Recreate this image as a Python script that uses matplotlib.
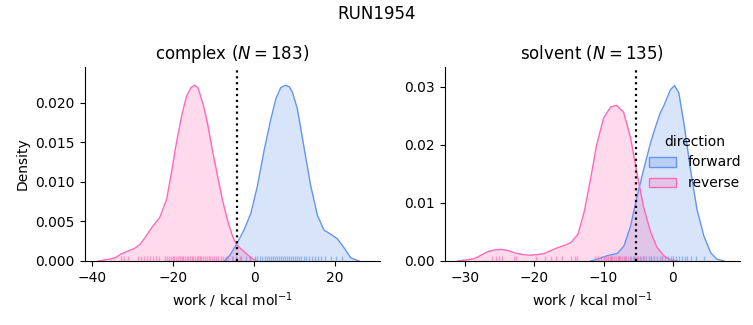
import numpy as np
import matplotlib
matplotlib.use('Agg')
import matplotlib.pyplot as plt
import matplotlib.patches as mpatches
from matplotlib.colors import to_rgb

# ── Data (KDE curves + rug samples) ──────────────────────────────────────────
FWD = '#6495ED'   # cornflowerblue
REV = '#FF69B4'   # hotpink

# complex leg
cpx_rev_x = [-38.5, -36.0, -34.4, -32.8, -31.9, -30.5, -29.5, -28.2, -27.0, -25.3,
             -23.3, -21.6, -20.4, -19.2, -17.9, -16.7, -15.6, -14.7, -13.9, -13.2,
             -12.3, -11.5, -10.3, -9.0, -7.8, -6.6, -5.3, -4.35, -3.4, -2.5,
             -1.4, -0.4, 0.6]
cpx_rev_y = [0.0000, 0.0002, 0.0004, 0.0009, 0.0011, 0.0014, 0.0016, 0.0021, 0.0029, 0.0042,
             0.0055, 0.0078, 0.0112, 0.0149, 0.0183, 0.0208, 0.0219, 0.0222, 0.0219, 0.0208,
             0.0192, 0.0174, 0.0140, 0.0107, 0.0077, 0.0052, 0.0031, 0.0021, 0.0016, 0.0012,
             0.0007, 0.0003, 0.0000]
cpx_fwd_x = [-7.4, -6.0, -4.35, -2.5, -0.8, 0.8, 2.5, 4.1, 5.4, 6.6,
             7.8, 8.7, 9.5, 10.7, 12.3, 14.0, 15.7, 17.3, 18.9, 20.6,
             22.2, 23.9, 25.9]
cpx_fwd_y = [0.0000, 0.0007, 0.0021, 0.0039, 0.0060, 0.0094, 0.0140, 0.0178, 0.0205, 0.0219,
             0.0222, 0.0220, 0.0213, 0.0192, 0.0145, 0.0095, 0.0057, 0.0039, 0.0034, 0.0028,
             0.0017, 0.0004, 0.0000]
cpx_rev_rug = [-33.0, -32.2, -31.2, -28.6, -27.9, -27.1, -26.4, -25.8, -25.0, -24.3,
               -23.6, -22.1, -21.5, -21.0, -20.6, -20.1, -19.7, -19.2, -18.8, -18.3,
               -17.9, -17.5, -17.0, -16.6, -16.2, -15.8, -15.4, -15.0, -14.6, -14.2,
               -13.8, -13.4, -13.0, -12.6, -12.1, -11.7, -11.2, -10.8, -10.3, -9.8,
               -9.3, -8.8, -8.2, -7.7, -6.5, -5.3, -3.4, -1.0]
cpx_fwd_rug = [-6.9, -5.5, -4.4, -3.2, -2.0, -0.9, 0.2, 0.8, 1.4, 2.0,
               2.6, 3.1, 3.6, 4.1, 4.6, 5.1, 5.6, 6.1, 6.6, 7.1,
               7.6, 8.1, 8.6, 9.1, 9.6, 10.1, 10.6, 11.1, 11.7, 12.3,
               12.9, 13.5, 14.2, 15.0, 15.8, 16.5, 17.6, 19.0, 20.3, 21.8]

# solvent leg
slv_rev_x = [-31.1, -29.8, -28.7, -27.7, -26.8, -25.8, -24.8, -23.8, -22.9, -21.7,
             -20.5, -19.5, -18.6, -17.6, -16.6, -15.6, -14.7, -13.7, -12.8, -11.9,
             -11.0, -10.0, -9.0, -8.15, -7.1, -6.1, -5.15, -4.2, -3.2, -2.3,
             -1.3, -0.33, 0.6]
slv_rev_y = [0.0000, 0.0002, 0.0004, 0.0010, 0.0016, 0.0019, 0.0020, 0.0018, 0.0014, 0.0011,
             0.0010, 0.0011, 0.0013, 0.0018, 0.0023, 0.0027, 0.0032, 0.0046, 0.0085, 0.0140,
             0.0200, 0.0246, 0.0265, 0.0268, 0.0256, 0.0212, 0.0150, 0.0092, 0.0050, 0.0024,
             0.0009, 0.0002, 0.0000]
slv_fwd_x = [-11.9, -10.9, -9.5, -8.0, -7.05, -6.1, -5.15, -4.2, -3.2, -2.3,
             -1.8, -1.3, -0.33, 0.25, 0.87, 1.6, 2.56, 3.5, 4.5, 5.5,
             6.4, 7.4]
slv_fwd_y = [0.0000, 0.0003, 0.0009, 0.0013, 0.0026, 0.0060, 0.0112, 0.0158, 0.0204, 0.0238,
             0.0255, 0.0267, 0.0295, 0.0302, 0.0290, 0.0238, 0.0158, 0.0089, 0.0043, 0.0014,
             0.0003, 0.0000]
slv_rev_rug = [-26.1, -25.6, -25.1, -24.7, -23.0, -22.6, -19.8, -18.4, -17.6, -16.9,
               -16.0, -14.7, -14.2, -13.8, -11.2, -10.8, -10.4, -10.0, -9.7, -9.4,
               -9.1, -8.8, -8.5, -8.2, -7.9, -7.6, -7.3, -7.0, -6.7, -6.4,
               -6.1, -5.8, -5.4, -5.0, -4.6, -4.2, -3.2, -1.5]
slv_fwd_rug = [-9.0, -7.8, -6.9, -6.2, -5.6, -5.1, -4.7, -4.3, -3.9, -3.5,
               -3.1, -2.7, -2.3, -1.9, -1.5, -1.1, -0.7, -0.3, 0.1, 0.5,
               0.9, 1.3, 1.7, 2.1, 2.6, 3.4, 4.5]

panels = [
    dict(title=r'complex ($N = 183$)', fwd=(cpx_fwd_x, cpx_fwd_y), rev=(cpx_rev_x, cpx_rev_y),
         fwd_rug=cpx_fwd_rug, rev_rug=cpx_rev_rug, vline=-4.27,
         xlim=(-41.9, 31.0), ylim=(0, 0.0245), xticks=[-40, -20, 0, 20],
         yticks=[0.0, 0.005, 0.010, 0.015, 0.020], yfmt='{:.3f}'),
    dict(title=r'solvent ($N = 135$)', fwd=(slv_fwd_x, slv_fwd_y), rev=(slv_rev_x, slv_rev_y),
         fwd_rug=slv_fwd_rug, rev_rug=slv_rev_rug, vline=-5.25,
         xlim=(-33.0, 9.65), ylim=(0, 0.0334), xticks=[-30, -20, -10, 0],
         yticks=[0.0, 0.01, 0.02, 0.03], yfmt='{:.2f}'),
]

# ── Figure ────────────────────────────────────────────────────────────────────
fig = plt.figure(figsize=(7.53, 3.25), dpi=100)
ax_l = fig.add_axes([84.5 / 753, 64 / 325, 295 / 753, 194 / 325])
ax_r = fig.add_axes([444.5 / 753, 64 / 325, 295 / 753, 194 / 325])

for ax, p in zip([ax_l, ax_r], panels):
    for (xs, ys), c in [(p['fwd'], FWD), (p['rev'], REV)]:
        ax.fill_between(xs, ys, color=c, alpha=0.25, lw=0)
        ax.plot(xs, ys, color=c, lw=1)
    tr = ax.get_xaxis_transform()
    ax.vlines(p['fwd_rug'], 0, 0.025, transform=tr, color=FWD, lw=1, alpha=0.6)
    ax.vlines(p['rev_rug'], 0, 0.025, transform=tr, color=REV, lw=1, alpha=0.6)
    ax.axvline(p['vline'], color='black', ls=':', lw=1.6)
    ax.set_xlim(*p['xlim'])
    ax.set_ylim(*p['ylim'])
    ax.set_xticks(p['xticks'])
    ax.set_yticks(p['yticks'])
    ax.set_yticklabels([p['yfmt'].format(v) for v in p['yticks']])
    ax.set_title(p['title'], fontsize=12)
    ax.set_xlabel(r'work / kcal mol$^{-1}$')
    ax.spines['top'].set_visible(False)
    ax.spines['right'].set_visible(False)

ax_l.set_ylabel('Density')
fig.suptitle('RUN1954', fontsize=12, y=0.985)

# legend patches: translucent fill, solid edge (like seaborn's kde legend)
handles = [mpatches.Patch(facecolor=(*to_rgb(c), 0.25), edgecolor=c, lw=1, label=l)
           for c, l in [(FWD, 'forward'), (REV, 'reverse')]]
fig.legend(handles=handles, title='direction', frameon=False, fontsize=10,
           title_fontsize=10, loc='center left', bbox_to_anchor=(636 / 753, 0.5))

fig.savefig('out.png', dpi=100)
